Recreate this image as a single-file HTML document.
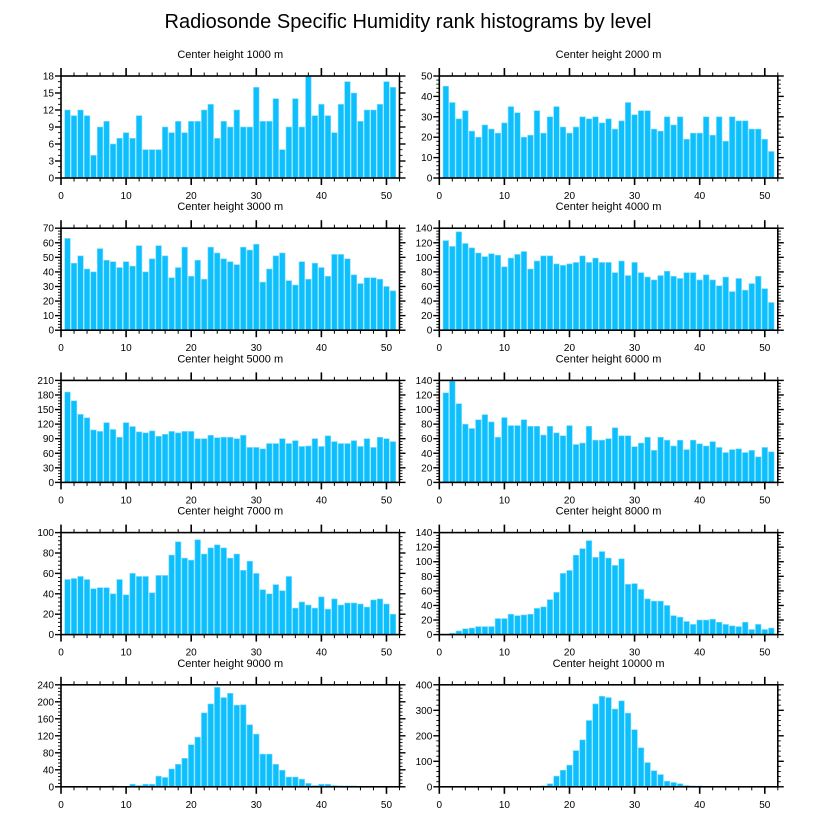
<!DOCTYPE html>
<html><head><meta charset="utf-8"><style>
body{margin:0;background:#fff;}
svg text{font-family:"Liberation Sans",sans-serif;fill:#000;}
</style></head><body>
<svg id="chart" width="816" height="824" viewBox="0 0 816 824">
<text x="408" y="28" text-anchor="middle" font-size="20">Radiosonde Specific Humidity rank histograms by level</text>
</svg>
<script>
const levels=["1000","2000","3000","4000","5000","6000","7000","8000","9000","10000"];
const yMaxes=[18,50,70,140,210,140,100,140,240,400];
const ySteps=[3,10,10,20,30,20,20,20,40,100];
const xTicks=[0,10,20,30,40,50];
const h1000=[12,11,12,11,4,9,10,6,7,8,7,11,5,5,5,9,8,10,8,10,10,12,13,7,10,9,12,9,9,16,10,10,14,5,9,14,9,18,11,13,11,8,13,17,15,10,12,12,13,17,16];
const h2000=[45,37,29,33,23,20,26,24,22,27,35,32,20,21,33,22,30,35,25,22,25,30,29,30,27,29,24,28,37,31,33,33,24,23,30,26,30,19,22,22,30,21,30,18,30,28,28,24,24,19,13];
const h3000=[63,46,51,42,40,56,48,47,43,47,44,58,40,49,58,51,36,43,57,37,48,35,57,53,49,47,45,57,55,59,33,42,51,53,34,31,47,35,46,43,37,52,52,49,38,32,36,36,35,30,27];
const h4000=[123,115,135,119,113,106,101,105,103,87,99,104,108,84,95,102,102,91,89,91,93,102,93,99,93,93,79,95,75,93,79,73,69,75,81,74,71,79,79,69,76,69,61,73,53,71,55,64,74,57,38];
const h5000=[186,168,140,133,108,105,123,109,93,123,115,104,102,106,95,99,105,102,105,105,90,90,97,92,93,93,90,97,72,72,69,80,80,90,80,86,74,75,90,74,96,84,80,80,86,74,90,72,93,90,84];
const h6000=[123,139,108,80,74,86,93,83,62,89,78,78,86,77,77,65,77,68,64,78,52,54,77,58,58,60,75,64,64,49,54,62,44,62,58,50,58,45,58,53,50,56,48,41,45,46,41,44,35,48,42];
const h7000=[54,55,57,54,45,46,46,40,54,39,60,57,57,41,58,58,78,91,75,73,93,79,85,88,85,75,79,63,72,60,44,40,49,43,57,26,32,29,26,37,25,35,29,31,31,30,27,34,35,30,20];
const h8000=[0,2,5,8,9,11,11,11,22,22,28,26,27,28,36,38,48,58,84,88,109,118,129,106,114,105,95,104,69,70,62,49,46,46,40,26,24,18,14,20,20,21,17,14,12,11,17,7,14,7,9];
const h9000=[0,0,0,0,0,0,0,2,0,0,6,3,6,6,25,22,42,53,67,99,117,174,195,234,210,220,192,193,146,124,77,77,53,39,23,23,18,8,3,6,6,3,2,2,2,1,1,0,0,0,1];
const h10000=[0,0,0,0,0,0,0,0,0,0,0,0,0,0,2,4,12,42,65,85,142,184,260,325,355,350,305,337,289,224,153,95,63,48,22,17,12,5,3,3,1,1,1,1,2,0,0,0,0,0,0];
const series=[h1000,h2000,h3000,h4000,h5000,h6000,h7000,h8000,h9000,h10000];

const NS="http://www.w3.org/2000/svg";
const svg=document.getElementById("chart");
function mk(tag,attrs,parent){const e=document.createElementNS(NS,tag);for(const k in attrs)e.setAttribute(k,attrs[k]);parent.appendChild(e);return e;}
const X0s=[61,439.3], PW=338.5, XMAX=52, PH=102;
for(let p=0;p<10;p++){
  const col=p%2,row=Math.floor(p/2);
  const left=X0s[col], top=76+row*152.2, bottom=top+PH, right=left+PW;
  const xs=v=>left+v/XMAX*PW;
  const ys=v=>bottom-v/yMaxes[p]*PH;
  const g=mk("g",{},svg);
  
  
  const t=mk("text",{x:(left+right)/2,y:top-18,"text-anchor":"middle","font-size":"11"},g);
  t.textContent="Center height "+levels[p]+" m";
  
  
  const data=series[p];
  for(let i=0;i<data.length;i++){
    const c=i+1, v=data[i];
    if(v<=0)continue;
    const r=mk("rect",{x:xs(c-0.43),y:ys(v),width:xs(c+0.43)-xs(c-0.43),height:bottom-ys(v),fill:"#0dbffc",stroke:"#7fdcff","stroke-width":"0.6"},g);
    
    
  }
  const frame=mk("rect",{x:left,y:top,width:PW,height:PH,fill:"none",stroke:"#000","stroke-width":"1.6"},g);
  
  
  // x ticks
  for(let v=0;v<=XMAX;v+=2){
    const maj=v%10===0, x=xs(v);
    mk("line",{x1:x,x2:x,y1:top,y2:top-(maj?8:3.5),stroke:"#000","stroke-width":maj?1.6:1},g);
    mk("line",{x1:x,x2:x,y1:bottom,y2:bottom+(maj?7:3.5),stroke:"#000","stroke-width":maj?1.6:1},g);
  }
  for(const v of xTicks){
    const l=mk("text",{x:xs(v),y:bottom+21,"text-anchor":"middle","font-size":"10"},g);
    l.textContent=v;
    
    
  }
  // y ticks
  const st=ySteps[p], minor=st===3?1:st/5;
  for(let v=0;v<=yMaxes[p]+1e-9;v+=minor){
    const maj=Math.abs(v/st-Math.round(v/st))<1e-6, y=ys(v);
    const len=maj?6:3;
    mk("line",{x1:left,x2:left-len,y1:y,y2:y,stroke:"#000","stroke-width":maj?1.4:0.9},g);
    mk("line",{x1:right,x2:right+len,y1:y,y2:y,stroke:"#000","stroke-width":maj?1.4:0.9},g);
  }
  for(let v=0;v<=yMaxes[p];v+=st){
    const l=mk("text",{x:left-7,y:ys(v)+3.5,"text-anchor":"end","font-size":"10"},g);
    l.textContent=v;
    
    
  }
}
</script>
</body></html>
